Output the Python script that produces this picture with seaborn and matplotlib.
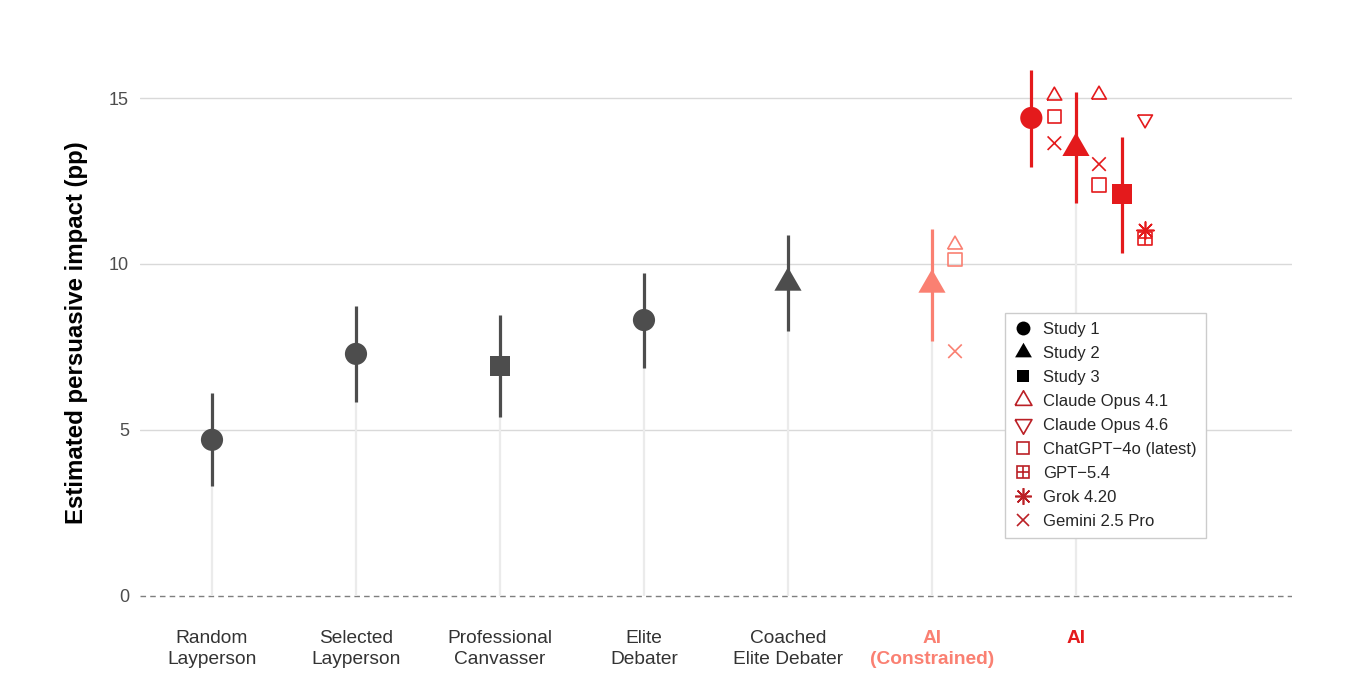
import numpy as np
import pandas as pd
import matplotlib
matplotlib.use("Agg")
import matplotlib.pyplot as plt
from matplotlib.lines import Line2D
import seaborn as sns

# ── data ─────────────────────────────────────────────────────────
categories = ["Random\nLayperson", "Selected\nLayperson", "Professional\nCanvasser",
              "Elite\nDebater", "Coached\nElite Debater", "AI\n(Constrained)", "AI"]

# study-level estimates (pp) with 95% CI
est_category = [0, 1, 2, 3, 4, 5, 6, 6, 6]
est_study = ["Study 1", "Study 1", "Study 3", "Study 1", "Study 2",
             "Study 2", "Study 1", "Study 2", "Study 3"]
est_value = [4.70, 7.29, 6.93, 8.31, 9.43, 9.37, 14.40, 13.49, 12.11]
est_low = [3.31, 5.84, 5.39, 6.87, 7.98, 7.68, 12.92, 11.84, 10.34]
est_high = [6.11, 8.73, 8.46, 9.73, 10.87, 11.05, 15.84, 15.19, 13.83]

# individual model estimates (AI conditions only)
mod_category = [5, 5, 5, 6, 6, 6, 6, 6, 6, 6, 6, 6]
mod_study = ["Study 2", "Study 2", "Study 2",
             "Study 1", "Study 1", "Study 1",
             "Study 2", "Study 2", "Study 2",
             "Study 3", "Study 3", "Study 3"]
mod_name = ["Claude Opus 4.1", "ChatGPT\u22124o (latest)", "Gemini 2.5 Pro",
            "Claude Opus 4.1", "ChatGPT\u22124o (latest)", "Gemini 2.5 Pro",
            "Claude Opus 4.1", "Gemini 2.5 Pro", "ChatGPT\u22124o (latest)",
            "Claude Opus 4.6", "Grok 4.20", "GPT\u22125.4"]
mod_value = [10.58, 10.14, 7.37,
             15.07, 14.44, 13.64,
             15.10, 13.01, 12.38,
             14.36, 11.02, 10.77]

# ── styling ──────────────────────────────────────────────────────
DARK = "#4d4d4d"
SALMON = "#fa8072"
RED = "#e41a1c"
LEG_RED = "#bb2026"
cat_colors = [DARK, DARK, DARK, DARK, DARK, SALMON, RED]

study_offset = {"Study 1": -0.31, "Study 2": 0.0, "Study 3": 0.32}
model_shift = 0.16

tri_up = [(-1, -0.577), (1, -0.577), (0, 1.155), (-1, -0.577)]
tri_down = [(-1, 0.577), (1, 0.577), (0, -1.155), (-1, 0.577)]
study_marker = {"Study 1": ("o", 255), "Study 2": (tri_up, 510), "Study 3": ("s", 220)}

sns.set_theme(style="white")
plt.rcParams["font.family"] = ["Liberation Sans", "DejaVu Sans"]

est = pd.DataFrame({"cat": est_category, "study": est_study, "value": est_value,
                    "low": est_low, "high": est_high})
n_studies = est.groupby("cat")["study"].transform("nunique")
est["x"] = est["cat"] + np.where(n_studies > 1, est["study"].map(study_offset), 0.0)
est["color"] = [cat_colors[c] for c in est["cat"]]

mod = pd.DataFrame({"cat": mod_category, "study": mod_study, "name": mod_name,
                    "value": mod_value})
mod_n = mod["cat"].map(est.groupby("cat")["study"].nunique())
mod["x"] = mod["cat"] + np.where(mod_n > 1, mod["study"].map(study_offset), 0.0) + model_shift
mod["color"] = [cat_colors[c] for c in mod["cat"]]

fig = plt.figure(figsize=(13.5, 6.98), dpi=100)
ax = fig.add_axes([0.1037, 0.1089, 0.8533, 0.8281])

# light stems from zero
centre = est[est["x"] == est["cat"]]
ax.vlines(centre["x"], 0, centre["value"], colors="#ebebeb", lw=1.6, zorder=1)

for y in [5, 10, 15]:
    ax.axhline(y, color="#d9d9d9", lw=1.0, zorder=0)
ax.axhline(0, color="#7f7f7f", lw=1.0, ls=(0, (4, 3)), zorder=0)

# CIs
ax.vlines(est["x"], est["low"], est["high"], colors=est["color"], lw=2.3, zorder=3)

# study points
for study, (mk, size) in study_marker.items():
    sub = est[est["study"] == study]
    sns.scatterplot(data=sub, x="x", y="value", hue="color",
                    palette={c: c for c in sub["color"].unique()},
                    marker=mk, s=size, linewidth=0, legend=False, zorder=4, ax=ax)

# model markers
open_markers = {"Claude Opus 4.1": (tri_up, 150), "Claude Opus 4.6": (tri_down, 150),
                "ChatGPT\u22124o (latest)": ("s", 95)}
line_markers = {"Gemini 2.5 Pro": ("x", 95), "Grok 4.20": ((8, 2, 0), 150)}
for name, (mk, size) in open_markers.items():
    sub = mod[mod["name"] == name]
    if len(sub):
        sns.scatterplot(data=sub, x="x", y="value", marker=mk, s=size,
                        facecolor="none", edgecolor=sub["color"].tolist(),
                        linewidth=1.2, legend=False, zorder=5, ax=ax)
for name, (mk, size) in line_markers.items():
    sub = mod[mod["name"] == name]
    if len(sub):
        sns.scatterplot(data=sub, x="x", y="value", hue="color",
                        palette={c: c for c in sub["color"].unique()},
                        marker=mk, s=size, linewidth=1.2, legend=False, zorder=5, ax=ax)
sub = mod[mod["name"] == "GPT\u22125.4"]
sns.scatterplot(data=sub, x="x", y="value", marker="s", s=95, facecolor="none",
                edgecolor=sub["color"].tolist(), linewidth=1.2, legend=False, zorder=5, ax=ax)
sns.scatterplot(data=sub, x="x", y="value", hue="color",
                palette={c: c for c in sub["color"].unique()},
                marker="+", s=95, linewidth=1.2, legend=False, zorder=5, ax=ax)

# axes
ax.set_xlim(-0.5, 7.5)
ax.set_ylim(-0.79, 16.63)
ax.set_yticks([0, 5, 10, 15])
ax.tick_params(axis="y", length=0, pad=8, labelsize=13, labelcolor=DARK)
ax.set_xticks(range(len(categories)))
ax.set_xticklabels(categories, linespacing=1.25)
ax.tick_params(axis="x", length=0, pad=6, labelsize=13.8)
for i, lab in enumerate(ax.get_xticklabels()):
    lab.set_color("#333333" if cat_colors[i] == DARK else cat_colors[i])
    if cat_colors[i] != DARK:
        lab.set_fontweight("bold")
ax.set_xlabel("")
ax.set_ylabel("Estimated persuasive impact (pp)", fontsize=17.3, fontweight="bold",
              color="black")
ax.yaxis.set_label_coords(-0.045, 0.5)
for s in ax.spines.values():
    s.set_visible(False)

# legend
def mk_handle(marker, ms, filled, color):
    if filled:
        return Line2D([], [], ls="none", marker=marker, ms=ms, color=color, mew=0)
    return Line2D([], [], ls="none", marker=marker, ms=ms, mfc="none", mec=color, mew=1.2)

handles = [
    mk_handle("o", 10, True, "black"),
    mk_handle(tri_up, 14, True, "black"),
    mk_handle("s", 9, True, "black"),
    mk_handle(tri_up, 14, False, LEG_RED),
    mk_handle(tri_down, 14, False, LEG_RED),
    mk_handle("s", 9, False, LEG_RED),
    (mk_handle("s", 9, False, LEG_RED), Line2D([], [], ls="none", marker="+", ms=9, mec=LEG_RED, mew=1.2)),
    Line2D([], [], ls="none", marker=(8, 2, 0), ms=12, mec=LEG_RED, mew=1.2),
    Line2D([], [], ls="none", marker="x", ms=9, mec=LEG_RED, mew=1.2),
]
labels = ["Study 1", "Study 2", "Study 3", "Claude Opus 4.1", "Claude Opus 4.6",
          "ChatGPT\u22124o (latest)", "GPT\u22125.4", "Grok 4.20", "Gemini 2.5 Pro"]
leg = ax.legend(handles, labels, loc="upper left", bbox_to_anchor=(0.751, 0.5346),
                borderaxespad=0, frameon=True, fancybox=False, fontsize=12,
                labelspacing=0.54, handletextpad=0.65, handlelength=1.1,
                borderpad=0.55, framealpha=1)
leg.get_frame().set_edgecolor("#cccccc")
leg.get_frame().set_linewidth(1.0)

fig.savefig("out.png", dpi=100, facecolor="white")
